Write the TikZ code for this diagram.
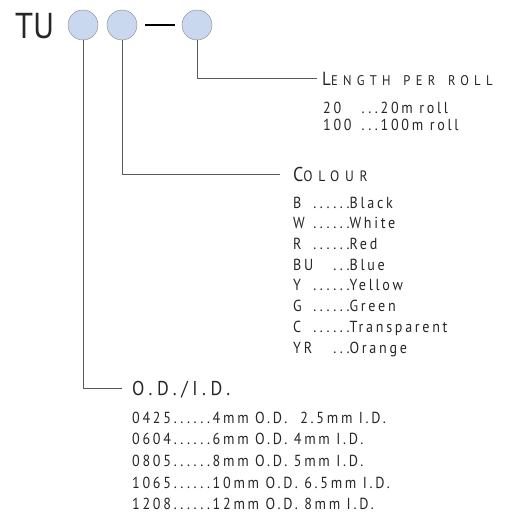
\documentclass[tikz,border=0pt]{standalone}
\usepackage{fontspec}
\newfontfamily\tufont[FakeStretch=0.9]{PT Sans}
\newfontfamily\tubefont[LetterSpace=17,FakeStretch=0.88]{PT Sans}
\newfontfamily\headfont[LetterSpace=38,FakeStretch=0.9]{PT Sans}
\newfontfamily\idfont[LetterSpace=23,FakeStretch=0.9]{PT Sans}
\usetikzlibrary{positioning}
\definecolor{tubeblue}{RGB}{201,215,239}
\definecolor{rimgrey}{RGB}{135,135,135}
\definecolor{leadgrey}{RGB}{90,90,90}
\newcommand{\fakesc}[4]{{\fontsize{#1}{#1}\selectfont #2}{\fontsize{#3}{#3}\selectfont #4}}

\begin{document}
\begin{tikzpicture}[x=1pt,y=1pt,
          slot/.style={circle,draw=rimgrey,fill=tubeblue,minimum size=30pt,inner sep=0pt},
          head/.style={anchor=west,inner sep=0pt,text depth=0pt,font=\headfont,text=black!85},
          codes/.style={anchor=north west,inner sep=0pt,text=black!85},
          lead/.style={draw=leadgrey,line width=0.8pt}
            ]
            \useasboundingbox (0,0) rectangle (512,-514);
            \node[anchor=base west,inner sep=0pt,text=black!85,font=\tufont\fontsize{36}{36}\selectfont] (tu) at (15,-38) {TU};
            \node[slot] (od) at (83,-25) {};
            \node[slot] (col) at (122,-25) {};
            \node[slot] (len) at (197,-25) {};
            \draw[line width=2.4pt] ([xshift=8pt]col.east) -- ([xshift=-7pt]len.west);
            \node[head] (lenhead) at (322,-78.5) {\fakesc{19}{L}{14}{ENGTH \hspace{4pt}PER \hspace{4pt}ROLL}};
            \node[head] (colhead) at (293,-174) {\fakesc{20}{C}{15}{OLOUR}};
            \node[head,font=\idfont\fontsize{20}{20}\selectfont] (odhead) at (132,-388) {O.D./I.D.};
            \node[codes,font=\tubefont\fontsize{16}{17}\selectfont] (lenlist) at (323,-101.1)
              {\begin{tabular}{@{}l@{\hspace{10pt}}l@{}}
                20 & ...20m roll\\
                100 & ...100m roll
               \end{tabular}};
            \node[codes,font=\tubefont\fontsize{16}{20.7}\selectfont] (collist) at (293,-193.5)
              {\begin{tabular}{@{}l@{}r@{}l@{}}
                B & ...... & Black\\
                W & ...... & White\\
                R & ...... & Red\\
                BU & ... & Blue\\
                Y & ...... & Yellow\\
                G & ...... & Green\\
                C & ...... & Transparent\\
                YR & ... & Orange
               \end{tabular}};
            \node[codes,font=\tubefont\fontsize{16}{21.7}\selectfont] (odlist) at (132,-407.8)
              {\begin{tabular}{@{}l@{}}
                0425......4mm O.D.\ \ 2.5mm I.D.\\
                0604......6mm O.D. 4mm I.D.\\
                0805......8mm O.D. 5mm I.D.\\
                1065......10mm O.D. 6.5mm I.D.\\
                1208......12mm O.D. 8mm I.D.
               \end{tabular}};
            \draw[lead] (len.south) |- ([xshift=-5pt]lenhead.west);
            \draw[lead] (col.south) |- ([xshift=-13pt]colhead.west);
            \draw[lead] (od.south) |- ([xshift=-10pt]odhead.west);
\end{tikzpicture}
\end{document}
